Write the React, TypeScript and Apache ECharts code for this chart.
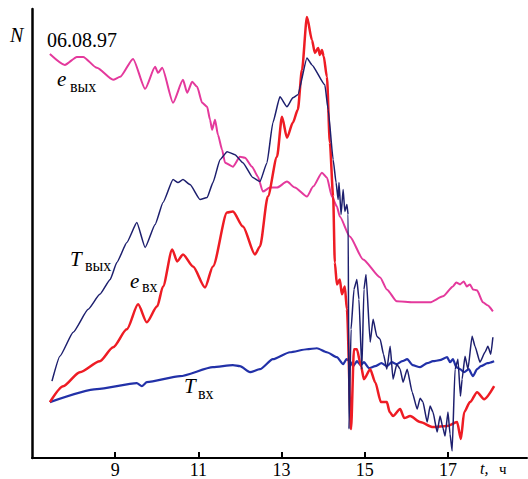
import React, { useEffect, useRef } from 'react';
import * as echarts from 'echarts';

// hours of day labelled on the time axis
const tickHours = [9, 11, 13, 15, 17];

// [t, N] pairs (N in arbitrary units, 0..45)
const eOut = [
  [7.43, 40.5], [7.79, 39.4], [8.08, 40.2], [8.23, 40.2], [8.56, 39.1], [8.95, 37.9],
  [9.12, 38.2], [9.43, 40.0], [9.72, 37.0], [9.96, 39.2], [10.03, 38.6], [10.13, 39.1],
  [10.39, 35.6], [10.63, 37.9], [10.73, 36.6], [10.85, 37.7], [10.97, 37.2], [11.09, 35.6],
  [11.21, 35.2], [11.28, 33.9], [11.33, 32.9], [11.40, 33.9], [11.47, 32.4], [11.57, 30.9],
  [11.64, 29.6], [11.83, 29.2], [12.0, 30.2], [12.12, 30.1], [12.29, 29.2], [12.43, 28.2],
  [12.55, 26.7], [12.72, 27.1], [12.89, 27.1], [13.13, 27.7], [13.32, 27.1], [13.61, 26.2],
  [13.76, 27.2], [13.97, 28.6], [14.09, 28.1], [14.21, 26.2], [14.33, 25.2], [14.40, 24.2],
  [14.64, 22.2], [14.96, 19.9], [15.37, 18.1], [15.53, 16.9], [15.77, 15.7], [16.16, 15.6],
  [16.57, 15.6], [16.88, 16.2], [17.12, 17.2], [17.2, 17.6], [17.29, 17.4], [17.38, 17.7],
  [17.45, 17.2], [17.53, 17.4], [17.6, 16.9], [17.7, 16.8], [17.84, 15.6], [17.95, 15.3],
  [18.08, 14.7],
];

const tOut = [
  [7.48, 7.7], [7.67, 10.2], [7.99, 12.6], [8.35, 14.9], [8.63, 16.4], [8.88, 17.9],
  [9.04, 19.6], [9.28, 21.6], [9.52, 23.6], [9.72, 21.1], [9.96, 23.4], [10.15, 25.6],
  [10.39, 27.9], [10.51, 27.6], [10.63, 27.9], [10.8, 27.4], [11.04, 25.9], [11.21, 26.1],
  [11.35, 27.6], [11.52, 29.9], [11.69, 30.7], [11.88, 30.4], [12.07, 29.6], [12.31, 28.1],
  [12.48, 27.7], [12.65, 29.6], [12.79, 33.6], [12.96, 36.2], [13.13, 35.2], [13.27, 36.1],
  [13.39, 36.4], [13.61, 40.1], [13.73, 39.4], [14.04, 37.4], [14.12, 34.9], [14.24, 29.9],
  [14.31, 27.6], [14.36, 25.9], [14.38, 27.6], [14.43, 24.4], [14.48, 26.9], [14.52, 24.7],
  [14.57, 25.4], [14.6, 24.4], [14.62, 2.9], [14.67, 12.9], [14.74, 16.9], [14.81, 17.9],
  [14.86, 15.9], [14.93, 8.9], [14.98, 16.9], [15.03, 18.4], [15.13, 11.6], [15.2, 13.9],
  [15.29, 12.2], [15.37, 11.9], [15.45, 10.4], [15.53, 8.9], [15.61, 11.2], [15.68, 7.9],
  [15.77, 9.4], [15.85, 8.9], [15.92, 7.6], [16.02, 8.9], [16.14, 6.6], [16.26, 4.9],
  [16.33, 6.0], [16.4, 5.6], [16.5, 3.6], [16.57, 5.2], [16.64, 4.6], [16.74, 2.6],
  [16.81, 4.2], [16.88, 3.0], [16.93, 2.2], [17.0, 4.6], [17.05, 2.4], [17.1, 0.7],
  [17.17, 8.9], [17.24, 9.9], [17.3, 6.2], [17.34, 7.9], [17.41, 10.2], [17.48, 8.9],
  [17.58, 12.2], [17.65, 11.2], [17.77, 9.6], [17.89, 10.6], [17.96, 11.2], [18.03, 10.4],
  [18.08, 12.1],
];

const tIn = [
  [7.43, 5.6], [8.56, 6.9], [9.52, 7.5], [9.64, 7.2], [9.76, 7.6], [10.56, 8.2],
  [11.35, 9.1], [11.83, 9.3], [12.0, 9.2], [12.24, 8.6], [12.48, 8.9], [12.79, 9.9],
  [13.2, 10.6], [13.61, 10.9], [13.85, 11.0], [14.09, 10.6], [14.33, 10.1], [14.48, 9.4],
  [14.56, 9.9], [14.64, 9.7], [14.72, 9.2], [14.81, 9.7], [14.9, 9.3], [14.98, 9.6],
  [15.1, 9.0], [15.25, 9.2], [15.4, 9.5], [15.53, 9.2], [15.65, 9.6], [15.77, 9.4],
  [15.9, 9.7], [16.02, 9.9], [16.15, 9.3], [16.33, 9.1], [16.5, 9.5], [16.64, 9.7],
  [16.8, 9.8], [16.98, 10.1], [17.05, 9.6], [17.12, 9.9], [17.2, 9.1], [17.29, 8.9],
  [17.39, 8.6], [17.5, 8.9], [17.6, 8.2], [17.7, 8.9], [17.79, 9.2], [17.95, 9.5],
  [18.11, 9.7],
];

const eIn = [
  [7.43, 5.6], [7.75, 7.2], [8.15, 8.6], [8.63, 9.7], [8.95, 11.1], [9.28, 12.9],
  [9.55, 15.4], [9.76, 13.6], [10.01, 15.2], [10.15, 17.2], [10.37, 20.9], [10.49, 19.7],
  [10.63, 20.4], [10.87, 19.2], [11.16, 17.1], [11.35, 19.2], [11.69, 24.6], [11.83, 24.7],
  [12.07, 23.2], [12.36, 20.4], [12.48, 21.2], [12.67, 26.2], [12.89, 30.2], [13.01, 34.2],
  [13.13, 32.1], [13.27, 33.6], [13.39, 34.9], [13.49, 38.9], [13.61, 44.2], [13.73, 41.9],
  [13.8, 40.6], [13.88, 41.1], [13.92, 40.4], [13.97, 40.9], [14.01, 40.3], [14.09, 38.2],
  [14.16, 31.6], [14.24, 26.2], [14.28, 19.6], [14.33, 17.4], [14.4, 17.9], [14.45, 16.4],
  [14.52, 17.2], [14.57, 14.9], [14.67, 2.9], [14.74, 10.9], [14.81, 10.9], [14.91, 9.2],
  [14.98, 7.9], [15.13, 8.9], [15.25, 7.6], [15.39, 5.6], [15.53, 5.6], [15.6, 4.6],
  [15.68, 4.2], [15.85, 4.9], [15.95, 4.0], [16.09, 4.2], [16.33, 3.6], [16.64, 3.1],
  [16.98, 3.2], [17.22, 3.6], [17.31, 1.9], [17.39, 4.6], [17.53, 5.6], [17.7, 6.6],
  [17.87, 5.9], [18.11, 7.2],
];

const serif = 'Liberation Serif, Times New Roman, serif';

const txt = (x: number, y: number, text: string, size: number, italic = false) => ({
  type: 'text',
  x,
  y,
  silent: true,
  style: {
    text,
    fill: '#000',
    fontSize: size,
    fontFamily: serif,
    fontStyle: italic ? 'italic' : 'normal',
    verticalAlign: 'middle',
    align: 'left',
  },
});

export default function App() {
  const ref = useRef<HTMLDivElement>(null);
  useEffect(() => {
    document.body.style.margin = '0';
    const chart = echarts.init(ref.current!, null, { renderer: 'svg' });
    const line = (data: number[][], color: string, width: number, smooth: number) => ({
      type: 'line',
      data,
      showSymbol: false,
      symbol: 'none',
      smooth,
      smoothMonotone: 'x',
      lineStyle: { color, width },
      itemStyle: { color },
    });
    chart.setOption({
      animation: false,
      backgroundColor: '#fff',
      grid: { left: 32, right: 1, top: 9, bottom: 20, containLabel: false },
      xAxis: {
        type: 'value',
        min: 7,
        max: 18.9,
        axisLine: { show: true, onZero: false, lineStyle: { color: '#000', width: 2 } },
        axisTick: {
          show: true,
          inside: true,
          length: 6,
          customValues: tickHours,
          lineStyle: { color: '#000', width: 2 },
        },
        axisLabel: {
          customValues: tickHours,
          color: '#000',
          fontSize: 18,
          fontFamily: serif,
          margin: 3,
        },
        splitLine: { show: false },
      },
      yAxis: {
        type: 'value',
        min: 0,
        max: 45,
        axisLine: { show: true, onZero: false, lineStyle: { color: '#000', width: 2.5 } },
        axisTick: { show: false },
        axisLabel: { show: false },
        splitLine: { show: false },
      },
      series: [
        line(tIn, '#2231a8', 2.2, 0.2),
        line(eOut, '#e4399c', 2, 0.2),
        line(eIn, '#ee1c24', 2.5, 0.25),
        line(tOut, '#1d1f6e', 1.5, 0.15),
      ],
      graphic: [
        txt(10, 35, 'N', 20, true),
        txt(47, 40, '06.08.97', 20),
        txt(57, 79, 'e', 21, true),
        txt(70, 86, 'вых', 16),
        txt(70, 259, 'T', 21, true),
        txt(85, 265, 'вых', 16),
        txt(130, 281, 'e', 21, true),
        txt(142, 286, 'вх', 16),
        txt(184, 386, 'T', 21, true),
        txt(198, 393, 'вх', 16),
        txt(480, 468, 't,', 16, true),
        txt(499, 469, 'ч', 15),
      ],
    });
    return () => chart.dispose();
  }, []);
  return <div ref={ref} style={{ width: 528, height: 479 }} />;
}
